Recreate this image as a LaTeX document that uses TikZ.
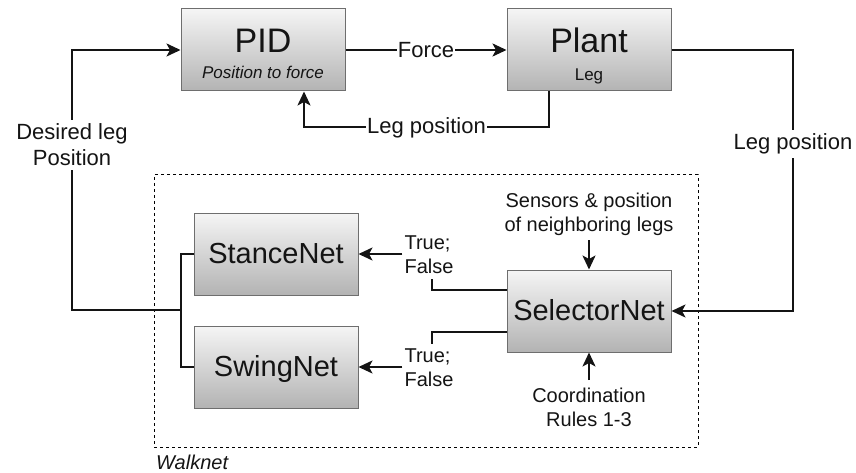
\documentclass[tikz,border=0pt]{standalone}
\usepackage{fontspec}
\setmainfont{Liberation Sans}
\usetikzlibrary{arrows.meta}

\definecolor{boxline}{HTML}{6E6E6E}
\definecolor{boxtop}{HTML}{F5F5F5}
\definecolor{boxbot}{HTML}{B3B3B3}
\definecolor{ink}{HTML}{141414}

\tikzset{
  block/.style={draw=boxline, line width=1pt, top color=boxtop, bottom color=boxbot,
    minimum width=164pt, minimum height=82pt, inner sep=0pt},
  netbox/.style={block, font=\fontsize{29}{32}\selectfont, text height=21pt, text depth=3pt},
  wire/.style={line width=2pt, draw=ink},
  flow/.style={wire, -{Stealth[length=14pt, width=13pt, inset=3.5pt]}},
  lbl/.style={fill=white, inner sep=1pt, text=ink, font=\fontsize{22}{26}\selectfont},
  small/.style={text=ink, font=\fontsize{20}{24}\selectfont, inner xsep=2pt},
  boundary/.style={draw=black, line width=1pt, dash pattern=on 3pt off 3pt,
    minimum width=544pt, minimum height=272pt, inner sep=0pt}
}

\begin{document}
\begin{tikzpicture}[x=1pt, y=-1pt, text=ink]
  \useasboundingbox (0,0) rectangle (856,473);

  % Walknet boundary
  \node[boundary] (walknet) at (426,311) {};
  \node[small, font=\fontsize{20}{24}\selectfont\itshape, anchor=base west, inner sep=0pt]
    (walkname) at (156,469) {Walknet};

  % Controller and plant
  \node[block] (pid) at (263,50) {};
  \node[anchor=base, inner sep=0pt, font=\fontsize{34}{38}\selectfont] (pidname) at (263,53) {PID};
  \node[anchor=base, inner sep=0pt, font=\fontsize{17}{20}\selectfont\itshape] (pidsub) at (263,79) {Position to force};

  \node[block] (plant) at (589,50) {};
  \node[anchor=base, inner sep=0pt, font=\fontsize{34}{38}\selectfont] (plantname) at (589,53) {Plant};
  \node[anchor=base, inner sep=0pt, font=\fontsize{17}{20}\selectfont] (plantsub) at (589,81) {Leg};

  % Walknet networks
  \node[netbox] (stance) at (276,254) {StanceNet};
  \node[netbox] (swing) at (276,367) {SwingNet};
  \node[netbox] (sel) at (589,311) {SelectorNet};

  % Inputs of the selector
  \node[small, align=center, anchor=south, inner ysep=4pt] (sensors) at (589,240)
    {Sensors \& position\\of neighboring legs};
  \node[small, align=center, anchor=north, inner ysep=8pt] (coord) at (589,380)
    {Coordination\\Rules 1-3};
  \draw[flow] (sensors.south) -- (sel.north);
  \draw[flow] (coord.north) -- (sel.south);

  % Selector outputs
  \node[small, align=left, inner ysep=5pt] (tfa) at (429,255) {True;\\False};
  \node[small, align=left, inner ysep=5pt] (tfb) at (429,368) {True;\\False};
  \draw[wire] ([yshift=21pt]sel.west) -| ([xshift=3pt]tfa.south);
  \draw[wire] ([yshift=-21pt]sel.west) -| ([xshift=3pt]tfb.north);
  \draw[flow] (tfa.west |- stance.east) -- (stance.east);
  \draw[flow] (tfb.west |- swing.east) -- (swing.east);

  % Network outputs merge into the desired leg position
  \coordinate (jn) at (181,310);
  \draw[wire] (stance.west) -- (181,254) -- (181,367) -- (swing.west);
  \node[lbl, align=center, inner sep=4pt] (desired) at (72,145) {Desired leg\\Position};
  \draw[wire] (jn) -| (desired.south);
  \draw[flow] (desired.north) |- (pid.west);

  % Control loop
  \draw[flow] (pid.east) -- node[lbl] (force) {Force} (plant.east -| plant.west);
  \draw[flow] ([xshift=-40pt]plant.south) -- ++(0,36)
    -| ([xshift=41pt]pid.south) node[lbl, pos=0.25] (legpos) {Leg position};
  \draw[flow] (plant.east) -- (793,50) |- (sel.east)
    node[lbl, pos=0.18, inner ysep=4pt] (legpos2) {Leg position};
\end{tikzpicture}
\end{document}
